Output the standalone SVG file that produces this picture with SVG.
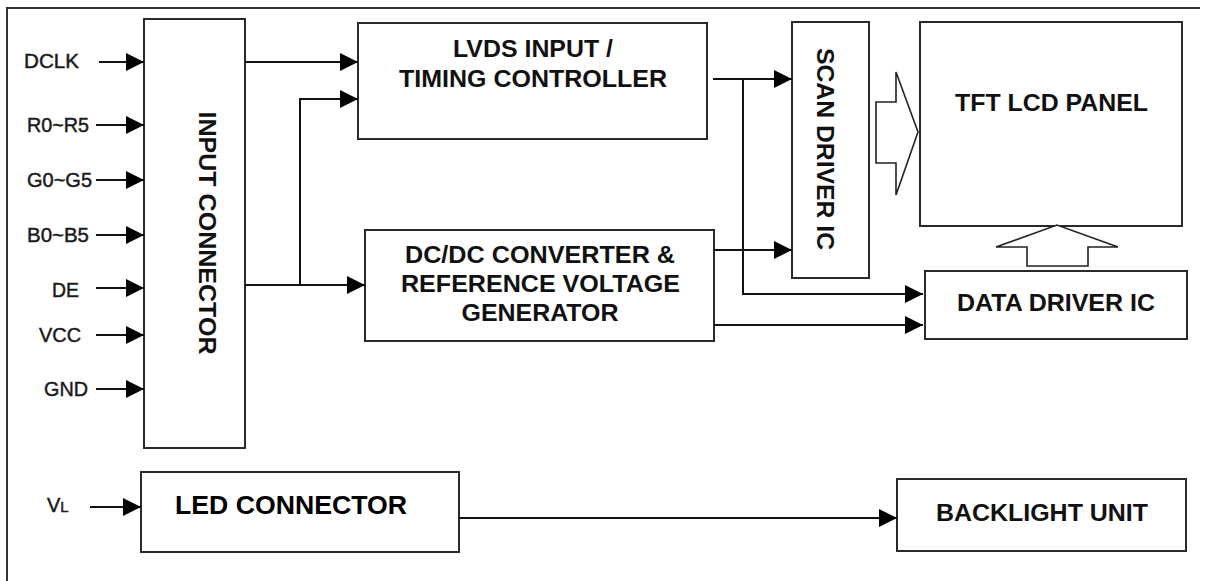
<svg xmlns="http://www.w3.org/2000/svg" width="1209" height="581" viewBox="0 0 1209 581">
<defs>
<style>
.box{fill:#fff;stroke:#2a2a2a;stroke-width:2}
.ln{fill:none;stroke:#111;stroke-width:2}
.pin{font-family:"Liberation Sans",Arial,sans-serif;font-size:20px;fill:#1a1a1a;stroke:#1a1a1a;stroke-width:0.45}
.lbl{font-family:"Liberation Sans",Arial,sans-serif;font-size:23px;font-weight:bold;fill:#111;text-anchor:middle}
.big{font-family:"Liberation Sans",Arial,sans-serif;font-size:26px;font-weight:bold;fill:#000}
.hollow{fill:#fff;stroke:#222;stroke-width:1.6;stroke-linejoin:miter}
</style>
<marker id="ah" markerWidth="18" markerHeight="18" viewBox="0 0 18 18" refX="18" refY="9" orient="auto" markerUnits="userSpaceOnUse">
<path d="M0,0 L18,9 L0,18 Z" fill="#000"/>
</marker>
</defs>
<rect width="1209" height="581" fill="#fff"/>
<path d="M7,581 V8 H1200" fill="none" stroke="#333" stroke-width="2"/>

<g id="input-connector">
<rect class="box" x="144" y="19" width="101" height="429"/>
<text class="lbl" transform="translate(207,233) rotate(90)" y="8" textLength="243" lengthAdjust="spacingAndGlyphs">INPUT CONNECTOR</text>
</g>

<g id="pins">
<text class="pin" x="24" y="68" textLength="55" lengthAdjust="spacingAndGlyphs">DCLK</text>
<text class="pin" x="27" y="132" textLength="62" lengthAdjust="spacingAndGlyphs">R0~R5</text>
<text class="pin" x="27" y="187" textLength="65" lengthAdjust="spacingAndGlyphs">G0~G5</text>
<text class="pin" x="27" y="242" textLength="62" lengthAdjust="spacingAndGlyphs">B0~B5</text>
<text class="pin" x="52" y="297" textLength="27" lengthAdjust="spacingAndGlyphs">DE</text>
<text class="pin" x="39" y="342" textLength="42" lengthAdjust="spacingAndGlyphs">VCC</text>
<text class="pin" x="44" y="396" textLength="44" lengthAdjust="spacingAndGlyphs">GND</text>
<text class="pin" x="47" y="512">V<tspan font-size="15">L</tspan></text>
</g>

<g id="lvds">
<rect class="box" x="358" y="23" width="349" height="116"/>
<text class="lbl" x="533" y="57" textLength="160" lengthAdjust="spacingAndGlyphs">LVDS INPUT /</text>
<text class="lbl" x="533" y="87" textLength="268" lengthAdjust="spacingAndGlyphs">TIMING CONTROLLER</text>
</g>

<g id="dcdc">
<rect class="box" x="365" y="230" width="349" height="111"/>
<text class="lbl" x="540" y="263" textLength="270" lengthAdjust="spacingAndGlyphs">DC/DC CONVERTER &amp;</text>
<text class="lbl" x="540.5" y="292" textLength="279" lengthAdjust="spacingAndGlyphs">REFERENCE VOLTAGE</text>
<text class="lbl" x="540" y="321" textLength="157" lengthAdjust="spacingAndGlyphs">GENERATOR</text>
</g>

<g id="scan-driver">
<rect class="box" x="792" y="22" width="77" height="256"/>
<text class="lbl" transform="translate(825,149) rotate(90)" y="8" textLength="202" lengthAdjust="spacingAndGlyphs">SCAN DRIVER IC</text>
</g>

<g id="tft-panel">
<rect class="box" x="920" y="22" width="262" height="204"/>
<text class="lbl" x="1051.5" y="111" textLength="193" lengthAdjust="spacingAndGlyphs">TFT LCD PANEL</text>
</g>

<g id="data-driver">
<rect class="box" x="925" y="271" width="262" height="68"/>
<text class="lbl" x="1056" y="311" textLength="198" lengthAdjust="spacingAndGlyphs">DATA DRIVER IC</text>
</g>

<g id="led-connector">
<rect class="box" x="141" y="472" width="318" height="80"/>
<text class="big" x="175" y="514" textLength="232" lengthAdjust="spacingAndGlyphs">LED CONNECTOR</text>
</g>

<g id="backlight">
<rect class="box" x="897" y="479" width="289" height="72"/>
<text class="lbl" x="1042" y="521" textLength="212" lengthAdjust="spacingAndGlyphs">BACKLIGHT UNIT</text>
</g>

<g id="connectors">
<line class="ln" x1="99" y1="62" x2="144" y2="62" marker-end="url(#ah)"/>
<line class="ln" x1="96" y1="125" x2="144" y2="125" marker-end="url(#ah)"/>
<line class="ln" x1="96" y1="180" x2="144" y2="180" marker-end="url(#ah)"/>
<line class="ln" x1="96" y1="235" x2="144" y2="235" marker-end="url(#ah)"/>
<line class="ln" x1="96" y1="288" x2="144" y2="288" marker-end="url(#ah)"/>
<line class="ln" x1="96" y1="335" x2="144" y2="335" marker-end="url(#ah)"/>
<line class="ln" x1="96" y1="389" x2="144" y2="389" marker-end="url(#ah)"/>
<line class="ln" x1="90" y1="507" x2="141" y2="507" marker-end="url(#ah)"/>

<line class="ln" x1="245" y1="62" x2="358" y2="62" marker-end="url(#ah)"/>
<polyline class="ln" points="300,285 300,99 358,99" marker-end="url(#ah)"/>
<line class="ln" x1="245" y1="285" x2="365" y2="285" marker-end="url(#ah)"/>

<line class="ln" x1="713" y1="79" x2="792" y2="79" marker-end="url(#ah)"/>
<polyline class="ln" points="743,79 743,294 923,294" marker-end="url(#ah)"/>
<line class="ln" x1="714" y1="250" x2="792" y2="250" marker-end="url(#ah)"/>
<line class="ln" x1="714" y1="325" x2="923" y2="325" marker-end="url(#ah)"/>

<line class="ln" x1="459" y1="518" x2="897" y2="518" marker-end="url(#ah)"/>

<polygon class="hollow" points="876,102 896,102 896,72 918,132 896,195 896,163 876,163"/>
<polygon class="hollow" points="1027,266 1027,247 996,247 1057,225 1118,247 1088,247 1088,266"/>
</g>
</svg>
